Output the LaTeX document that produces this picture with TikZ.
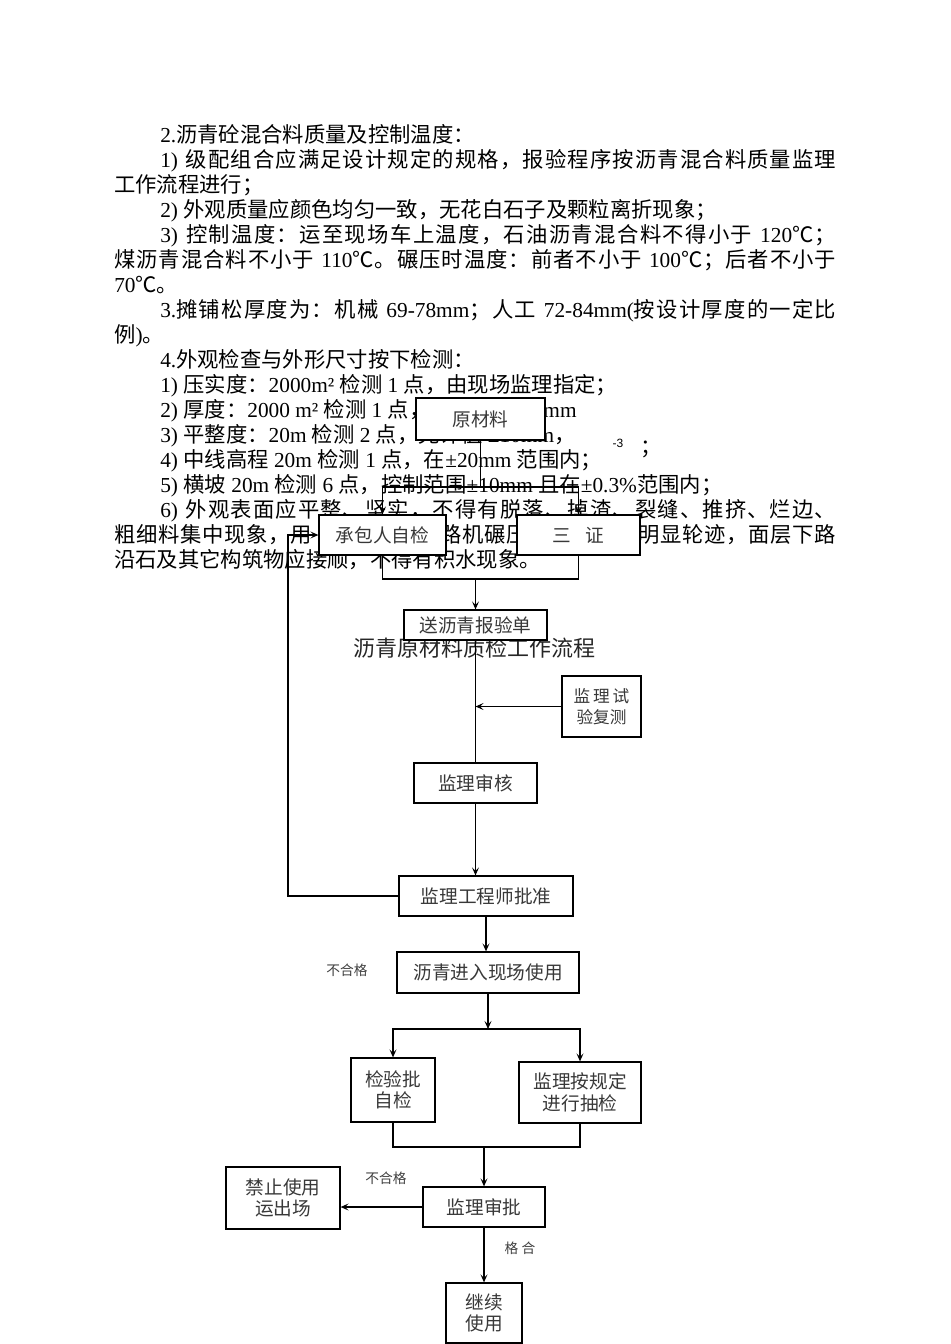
\documentclass[tikz,border=0pt]{standalone}
\usepackage{fontspec}
\setmainfont{Liberation Serif}
\setsansfont{Liberation Sans}
\newfontfamily\cjk{Noto Sans CJK SC}
\usetikzlibrary{arrows.meta}

% switch to the CJK family for Han characters and full-width punctuation
\XeTeXinterchartokenstate=1
\newXeTeXintercharclass\hanclass
\newcount\hancount
\def\sethanrange#1#2{\hancount=#1\relax
  \loop\XeTeXcharclass\hancount=\hanclass\relax
  \ifnum\hancount<#2\relax\advance\hancount by 1\relax\repeat}
\sethanrange{"4E00}{"9FFF}
\sethanrange{"3000}{"303F}
\sethanrange{"FF00}{"FFEF}
\XeTeXcharclass"2103=\hanclass
\XeTeXinterchartoks 0 \hanclass={\cjk}
\XeTeXinterchartoks 4095 \hanclass={\cjk}
\XeTeXinterchartoks \hanclass 0={\rmfamily}
\XeTeXinterchartoks \hanclass 4095={\rmfamily}
\XeTeXinterchartoks \hanclass \hanclass={\hskip 0pt plus 1pt minus 0.6pt\relax}

\begin{document}
\begin{tikzpicture}[x=0.75pt, y=-0.75pt,
  box/.style={draw=black, line width=0.9pt, fill=white, inner sep=0pt, align=center,
    font=\fontsize{14pt}{16pt}\selectfont, text=black!78},
  wh/.style 2 args={minimum width=#1*0.75pt, minimum height=#2*0.75pt},
  lab/.style={inner sep=0pt, font=\fontsize{10.3pt}{12pt}\selectfont, text=black!75},
  link/.style={draw=black, line width=0.9pt},
  arr/.style={link, -{Stealth[length=6pt, width=5.2pt, inset=2.6pt]}}]
  % page
  \fill[white] (0,0) rectangle (950,1344);
  \useasboundingbox (0,0) rectangle (950,1344);

  % running text of the page
  \node[anchor=base west, inner sep=0pt] (body) at (114,143) {\vtop{\hsize=541.5pt
    \fontsize{16pt}{18.75pt}\selectfont
    \parindent=34.5pt\parskip=0pt\tolerance=10000
    2.沥青砼混合料质量及控制温度：\endgraf
    1) 级配组合应满足设计规定的规格，报验程序按沥青混合料质量监理\break 工作流程进行；\endgraf
    2) 外观质量应颜色均匀一致，无花白石子及颗粒离折现象；\endgraf
    3) 控制温度：运至现场车上温度，石油沥青混合料不得小于 120℃；\break 煤沥青混合料不小于 110℃。碾压时温度：前者不小于 100℃；后者不小于\break 70℃。\endgraf
    3.摊铺松厚度为：机械 69-78mm；人工 72-84mm(按设计厚度的一定比\break 例)。\endgraf
    4.外观检查与外形尺寸按下检测：\endgraf
    1) 压实度：2000m² 检测 1 点，由现场监理指定；\endgraf
    2) 厚度：2000 m² 检测 1 点，允许偏差 ±9mm\endgraf
    3) 平整度：20m 检测 2 点，允许值 ±10mm，\endgraf
    4) 中线高程 20m 检测 1 点，在±20mm 范围内；\endgraf
    5) 横坡 20m 检测 6 点，控制范围±10mm 且在±0.3\%范围内；\endgraf
    6) 外观表面应平整、坚实，不得有脱落、掉渣、裂缝、推挤、烂边、\break 粗细料集中现象，用 12t 双钢轮压路机碾压后，不得有明显轮迹，面层下路\break 沿石及其它构筑物应接顺，不得有积水现象。\endgraf}};
  \node[inner sep=0pt, font=\sffamily\fontsize{9pt}{10pt}\selectfont] (supm) at (618,443) {-3};
  \node[inner sep=0pt, font=\fontsize{16pt}{18pt}\selectfont] (semi) at (651,449) {；};

  % title, partly hidden by the boxes
  \node[inner sep=0pt, font=\fontsize{16.5pt}{18pt}\selectfont, text=black!85] (title) at (474,648) {沥青原材料质检工作流程};

  % boxes
  \node[box, wh={129}{42}] (yuan) at (480.5,419) {原材料};
  \node[box, wh={127}{40}] (zijian) at (382.5,535) {承包人自检};
  \node[box, wh={123}{40}] (sanzheng) at (578.5,535) {三\hspace{0.8em}证};
  \node[box, wh={143}{30}] (baoyan) at (475.5,625) {送沥青报验单};
  \node[box, wh={79}{61}, font=\fontsize{12.5pt}{16pt}\selectfont] (fuce) at (601.5,706.5) {监\,理\,试\\验复测};
  \node[box, wh={123}{40}] (shenhe) at (475.5,783) {监理审核};
  \node[box, wh={174}{40}] (pizhun) at (486,896) {监理工程师批准};
  \node[box, wh={182}{41}] (jinru) at (488,972.5) {沥青进入现场使用};
  \node[box, wh={84}{64}] (zjp) at (393,1090) {检验批\\自检};
  \node[box, wh={122}{61}] (choujian) at (580,1092.5) {监理按规定\\进行抽检};
  \node[box, wh={122}{40}] (shenpi) at (484,1207) {监理审批};
  \node[box, wh={114}{62}] (jinzhi) at (283,1198) {禁止使用\\运出场};
  \node[box, wh={76}{60}] (jixu) at (484,1313) {继续\\使用};

  % branch and join points
  \coordinate (fork1) at (480.5,487);
  \coordinate (join1) at (475.5,579);
  \coordinate (loopL) at (288,0);
  \coordinate (fork2) at (488,1029);
  \coordinate (join2) at (484,1147);

  % connectors
  \draw[link] (yuan.south) -- (fork1);
  \draw[arr] (fork1) -| (zijian.north);
  \draw[arr] (fork1) -| (sanzheng.north);
  \draw[link] (zijian.south) |- (join1) -| (sanzheng.south);
  \draw[arr] (join1) -- (baoyan.north);
  \draw[link] (baoyan.south) -- (shenhe.north);
  \draw[arr] (fuce.west) -- (fuce.west -| shenhe.north);
  \draw[arr] (shenhe.south) -- (shenhe.south |- pizhun.north);
  \draw[arr] (pizhun.west) -| (loopL |- zijian.west) -- (zijian.west);
  \draw[arr] (pizhun.south) -- (pizhun.south |- jinru.north);
  \draw[arr] (jinru.south) -- (fork2);
  \draw[arr] (fork2) -| (zjp.north);
  \draw[arr] (fork2) -| (choujian.north);
  \draw[link] (zjp.south) |- (join2) -| (choujian.south);
  \draw[arr] (join2) -- (shenpi.north);
  \draw[arr] (shenpi.west) -- (shenpi.west -| jinzhi.east);
  \draw[arr] (shenpi.south) -- (jixu.north);

  % labels
  \node[lab] (buhege1) at (347,970) {不合格};
  \node[lab] (buhege2) at (386,1178) {不合格};
  \node[lab] (hege) at (520,1248) {格 合};
\end{tikzpicture}
\end{document}
